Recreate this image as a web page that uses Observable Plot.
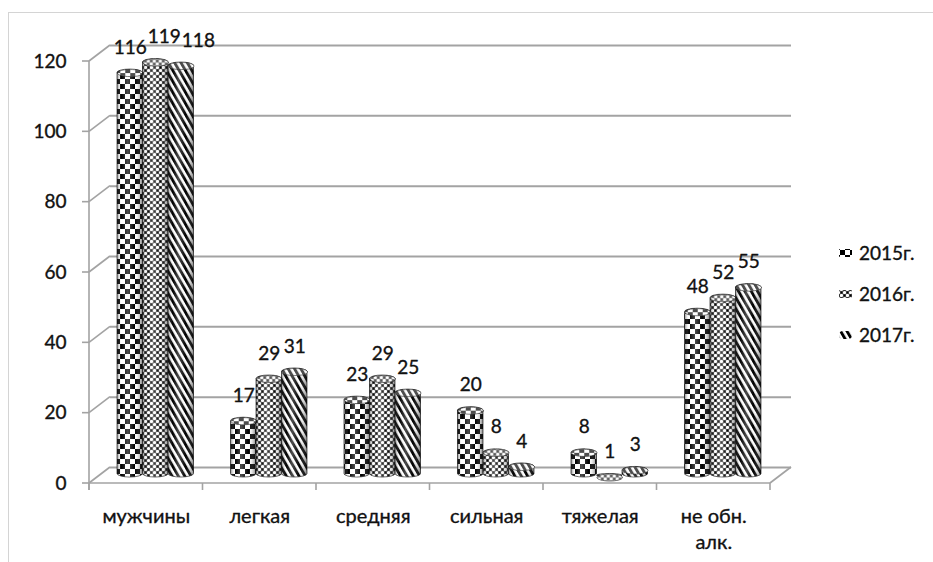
<!DOCTYPE html>
<html><head><meta charset="utf-8">
<script src="https://cdn.jsdelivr.net/npm/d3@7"></script>
<script src="https://cdn.jsdelivr.net/npm/@observablehq/plot@0.6"></script>
<style>
html,body{margin:0;padding:0;background:#fff;}
#wrap{position:relative;width:933px;height:562px;overflow:hidden;}
#border{position:absolute;left:8px;top:12px;width:1000px;height:1000px;border-left:1px solid #d4d4d4;border-top:1px solid #d4d4d4;}
#chart{position:absolute;left:0;top:0;}
</style></head><body>
<div id="wrap"><div id="border"></div><div id="chart"></div></div>
<script>
// ---- data ----
const categories = ["мужчины", "легкая", "средняя", "сильная", "тяжелая", "не обн.\nалк."];
const series = ["2015г.", "2016г.", "2017г."];
const values2015 = [116, 17, 23, 20, 8, 48];
const values2016 = [119, 29, 29, 8, 1, 52];
const values2017 = [118, 31, 25, 4, 3, 55];
const yTicks = [0, 20, 40, 60, 80, 100, 120];

// ---- layout ----
const W = 933, H = 562;
const ML = 89, MR = 163, MT = 61, MB = 79;
const BAND = (W - ML - MR) / categories.length;
const DX = 21, DY = -16;          // 3D depth offset
const BARW = 25.5;
const barLeft = [28, 53.5, 79];
const BAR_DY = -6;
const RY = 3.5;
const GRID = "#a3a3a3";
const FONT = "Lato, 'DejaVu Sans', sans-serif";
const INK = "#111";
const TXT = {fill: INK, stroke: INK, strokeWidth: 0.35};

const rows = (vals) => categories.map((c, i) => ({cat: c, value: vals[i]}));
const allSeries = [values2015, values2016, values2017];

const defs = () => {
  const g = d3.create("svg:g");
  const d = g.append("defs");
  // checker
  const p0 = d.append("pattern").attr("id", "pat0").attr("patternUnits", "userSpaceOnUse").attr("width", 10).attr("height", 10);
  p0.append("rect").attr("width", 10).attr("height", 10).attr("fill", "#fff");
  p0.append("rect").attr("width", 5).attr("height", 5).attr("fill", "#000");
  p0.append("rect").attr("x", 5).attr("y", 5).attr("width", 5).attr("height", 5).attr("fill", "#000");
  // dotted
  const p1 = d.append("pattern").attr("id", "pat1").attr("patternUnits", "userSpaceOnUse").attr("width", 6).attr("height", 6);
  p1.append("rect").attr("width", 6).attr("height", 6).attr("fill", "#4a4a4a");
  p1.append("circle").attr("cx", 1.5).attr("cy", 1.5).attr("r", 1.6).attr("fill", "#fff");
  p1.append("circle").attr("cx", 4.5).attr("cy", 4.5).attr("r", 1.6).attr("fill", "#fff");
  p1.append("circle").attr("cx", 4.5).attr("cy", 1.5).attr("r", 0.9).attr("fill", "#000");
  p1.append("circle").attr("cx", 1.5).attr("cy", 4.5).attr("r", 0.9).attr("fill", "#000");
  // stripes
  const p2 = d.append("pattern").attr("id", "pat2").attr("patternUnits", "userSpaceOnUse").attr("width", 5.5).attr("height", 10).attr("patternTransform", "rotate(-30)");
  p2.append("rect").attr("width", 5.5).attr("height", 10).attr("fill", "#fff");
  p2.append("rect").attr("width", 2.9).attr("height", 10).attr("fill", "#000");
  // cylinder shading
  const sh = d.append("linearGradient").attr("id", "shade").attr("x1", 0).attr("x2", 1).attr("y1", 0).attr("y2", 0);
  [[0, "#000", 0.45], [0.18, "#fff", 0.0], [0.42, "#fff", 0.3], [0.7, "#fff", 0.0], [1, "#000", 0.5]].forEach(([o, c, a]) =>
    sh.append("stop").attr("offset", o).attr("stop-color", c).attr("stop-opacity", a));
  return g.node();
};

// 3D structure: front axis, ticks, wall diagonals, floor
const walls = (index, scales, values, dims) => {
  const {y} = scales;
  const left = dims.marginLeft, right = dims.width - dims.marginRight;
  const g = d3.create("svg:g").attr("stroke", GRID).attr("stroke-width", 1.6).attr("fill", "none");
  const ymax = d3.max(yTicks);
  g.append("line").attr("x1", left).attr("x2", left).attr("y1", y(0) + 7).attr("y2", y(ymax));
  for (const t of yTicks) {
    g.append("line").attr("x1", left - 7).attr("x2", left).attr("y1", y(t)).attr("y2", y(t));
    g.append("line").attr("x1", left).attr("x2", left + DX).attr("y1", y(t)).attr("y2", y(t) + DY);
  }
  g.append("line").attr("x1", left).attr("x2", right).attr("y1", y(0)).attr("y2", y(0));
  g.append("line").attr("x1", right).attr("x2", right + DX).attr("y1", y(0)).attr("y2", y(0) + DY);
  for (let i = 0; i <= categories.length; i++) {
    const xb = left + i * BAND;
    g.append("line").attr("x1", xb).attr("x2", xb).attr("y1", y(0)).attr("y2", y(0) + 7);
  }
  return g.node();
};

const capSymbol = {
  draw(ctx) {
    const rx = BARW / 2, ry = RY, k = 0.5523;
    ctx.moveTo(-rx, 0);
    ctx.bezierCurveTo(-rx, -ry * k, -rx * k, -ry, 0, -ry);
    ctx.bezierCurveTo(rx * k, -ry, rx, -ry * k, rx, 0);
    ctx.bezierCurveTo(rx, ry * k, rx * k, ry, 0, ry);
    ctx.bezierCurveTo(-rx * k, ry, -rx, ry * k, -rx, 0);
    ctx.closePath();
  }
};

const barMarks = [];
allSeries.forEach((vals, i) => {
  const data = rows(vals);
  const insetLeft = barLeft[i], insetRight = BAND - barLeft[i] - BARW;
  const cdx = barLeft[i] + BARW / 2 - BAND / 2;
  barMarks.push(
    Plot.barY(data, {x: "cat", y: "value", fill: `url(#pat${i})`, insetLeft, insetRight, rx: BARW / 2, ry: RY, dy: BAR_DY, stroke: "#222", strokeWidth: 0.7}),
    Plot.barY(data, {x: "cat", y: "value", fill: "url(#shade)", insetLeft, insetRight, rx: BARW / 2, ry: RY, dy: BAR_DY}),
    Plot.dot(data, {x: "cat", y: "value", symbol: capSymbol, r: 5, dx: cdx, dy: BAR_DY + RY, fill: `url(#pat${i})`, stroke: "#222", strokeWidth: 0.7}),
    Plot.dot(data, {x: "cat", y: "value", symbol: capSymbol, r: 5, dx: cdx, dy: BAR_DY + RY, fill: "#fff", fillOpacity: 0.3})
  );
});
const labelMarks = allSeries.map((vals, i) => {
  const cdx = barLeft[i] + BARW / 2 - BAND / 2;
  return Plot.text(rows(vals), {x: "cat", y: "value", text: "value", dx: cdx, dy: -28, fontSize: 19, ...TXT});
});

const legend = () => {
  const g = d3.create("svg:g").attr("text-anchor", "start");
  series.forEach((s, i) => {
    const cy = 253 + i * 41;
    g.append("rect").attr("x", 839).attr("y", cy - 4).attr("width", 13).attr("height", 8).attr("rx", i === 2 ? 4 : 1)
      .attr("fill", `url(#pat${i})`);
    g.append("text").attr("x", 859).attr("y", cy).attr("dy", "0.35em").attr("font-size", 19)
      .attr("fill", INK).attr("stroke", INK).attr("stroke-width", 0.35).text(s);
  });
  return g.node();
};

const chart = Plot.plot({
  width: W, height: H,
  marginLeft: ML, marginRight: MR, marginTop: MT, marginBottom: MB,
  x: {domain: categories, padding: 0, round: false, axis: null},
  y: {domain: [0, 120], axis: null},
  style: {fontFamily: FONT, fontSize: "18px", background: "transparent", color: INK, overflow: "visible"},
  marks: [
    defs,
    Plot.ruleY(yTicks, {y: d => d, dx: DX, dy: DY, stroke: GRID, strokeWidth: 2}),
    walls,
    ...barMarks,
    ...labelMarks,
    Plot.text(yTicks, {y: d => d, frameAnchor: "left", textAnchor: "end", dx: -23, fontSize: 19, ...TXT}),
    Plot.text(categories, {x: d => d, frameAnchor: "bottom", lineAnchor: "top", dy: 21, lineHeight: 1.3, fontSize: 20, ...TXT}),
    legend
  ]
});
document.getElementById("chart").appendChild(chart);

// Push apart value labels that would overlap (as the reference layout does).
// The first three text marks in the SVG are the value-label marks, in series order.
const textGroups = Array.from(chart.querySelectorAll('g[aria-label="text"]')).slice(0, 3);
if (textGroups.length === 3) {
  const texts = textGroups.map(g => Array.from(g.querySelectorAll("text")));
  for (let j = 0; j < categories.length; j++) {
    let prevRight = -Infinity;
    for (let i = 0; i < 3; i++) {
      const t = texts[i][j];
      if (!t) continue;
      const b = t.getBoundingClientRect();
      let shift = 0;
      if (b.left < prevRight + 1) shift = prevRight + 1 - b.left;
      if (shift > 0) t.setAttribute("dx", shift);
      prevRight = b.right + shift;
    }
  }
}
</script>
</body></html>
